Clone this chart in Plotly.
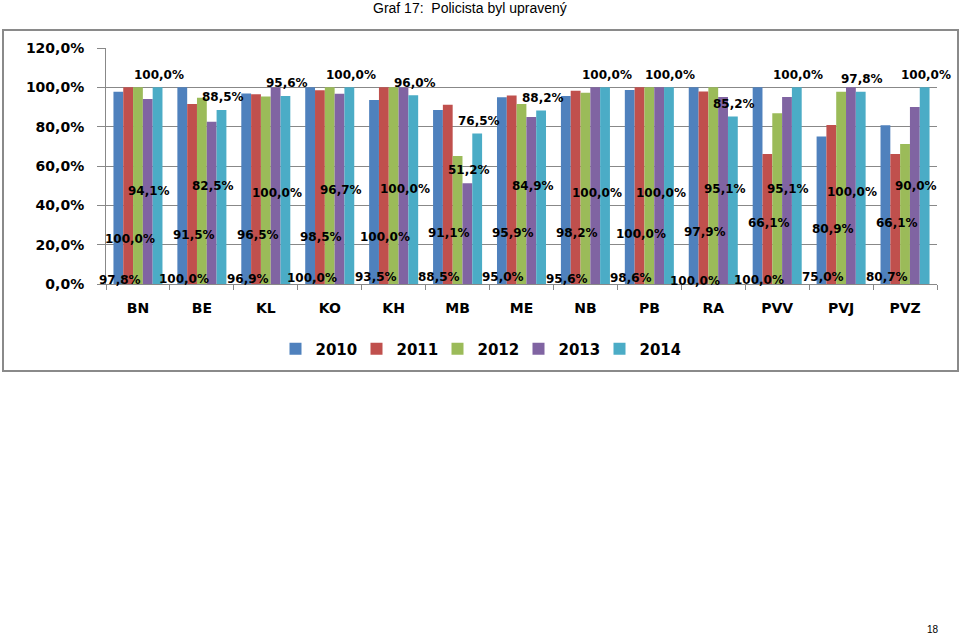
import plotly.graph_objects as go

categories = ["BN", "BE", "KL", "KO", "KH", "MB", "ME", "NB", "PB", "RA", "PVV", "PVJ", "PVZ"]
years = ["2010", "2011", "2012", "2013", "2014"]
v2010 = [97.8, 100.0, 96.9, 100.0, 93.5, 88.5, 95.0, 95.6, 98.6, 100.0, 100.0, 75.0, 80.7]
v2011 = [100.0, 91.5, 96.5, 98.5, 100.0, 91.1, 95.9, 98.2, 100.0, 97.9, 66.1, 80.9, 66.1]
v2012 = [100.0, 94.7, 95.4, 100.0, 100.0, 65.1, 91.5, 97.3, 100.0, 100.0, 86.8, 97.7, 71.2]
v2013 = [94.1, 82.5, 100.0, 96.7, 100.0, 51.2, 84.9, 100.0, 100.0, 95.1, 95.1, 100.0, 90.0]
v2014 = [100.0, 88.5, 95.6, 100.0, 96.0, 76.5, 88.2, 100.0, 100.0, 85.2, 100.0, 97.8, 100.0]
series = [v2010, v2011, v2012, v2013, v2014]
colors = ["#4F81BD", "#C0504D", "#9BBB59", "#8064A2", "#4BACC6"]

# label placement (style): vertical centre of the data-label rows, in axis units
pos2010 = [2.0, 2.5, 2.5, 3.0, 3.6, 3.6, 3.6, 2.5, 3.0, 1.5, 2.0, 3.6, 3.6]
pos2011 = [22.9, 24.9, 24.9, 23.9, 23.9, 25.9, 25.9, 25.9, 25.4, 26.4, 31.0, 28.0, 31.0]
pos2013 = [47.3, 49.8, 46.3, 47.8, 48.3, 58.0, 49.8, 46.3, 46.3, 48.3, 48.3, 46.8, 49.8]
label_gap_2014 = 6.4

FONT = "DejaVu Sans"
GRID = "#888888"

L, R, T, B = 106, 23, 48, 352
W, H = 960, 636
pw, ph = W - L - R, H - T - B
bargap = 0.233
pitch = pw / len(categories)
barw = pitch * (1 - bargap) / 5


def px2x(px):
    return (px - L) / pw


def py2y(py):
    return (H - B - py) / ph


def fmt(v):
    return f"{v:.1f}".replace(".", ",") + "%"


fig = go.Figure()
for name, vals, col in zip(years, series, colors):
    fig.add_trace(go.Bar(x=categories, y=vals, name=name, marker=dict(color=col, line=dict(width=0))))

annotations = []
label_rows = [(0, v2010, pos2010), (1, v2011, pos2011), (3, v2013, pos2013),
              (4, v2014, [v + label_gap_2014 for v in v2014])]
for idx, vals, ys in label_rows:
    for c, v, y in zip(categories, vals, ys):
        annotations.append(dict(x=c, y=y, xref="x", yref="y", text=fmt(v), showarrow=False,
                                xshift=(idx - 2) * barw + 1.5, yanchor="middle",
                                font=dict(family=FONT, size=12, color="#000000", weight="bold")))

annotations.append(dict(x=px2x(470), y=py2y(8), xref="paper", yref="paper",
                        text="Graf 17:  Policista byl upravený", showarrow=False,
                        font=dict(family="Liberation Sans", size=14, color="#000000"),
                        xanchor="center", yanchor="middle"))
annotations.append(dict(x=px2x(933), y=py2y(637), xref="paper", yref="paper", text="18",
                        showarrow=False, font=dict(family="Liberation Sans", size=10, color="#000000"),
                        xanchor="center", yanchor="bottom"))

fig.update_layout(
    width=W, height=H,
    margin=dict(l=L, r=R, t=T, b=B, pad=0, autoexpand=False),
    paper_bgcolor="white", plot_bgcolor="white",
    barmode="group", bargap=bargap, bargroupgap=0,
    showlegend=True,
    legend=dict(orientation="h", x=px2x(478), y=py2y(349), xanchor="center", yanchor="middle",
                font=dict(family=FONT, size=15, color="#000000", weight="bold"),
                itemwidth=30, traceorder="normal", entrywidth=36),
    annotations=annotations,
    shapes=[dict(type="rect", xref="paper", yref="paper",
                 x0=px2x(3), x1=px2x(958), y0=py2y(371), y1=py2y(30),
                 line=dict(color="#8a8a8a", width=2), fillcolor="rgba(0,0,0,0)", layer="below")],
)
fig.update_xaxes(type="category", range=[-0.5, len(categories) - 0.5], autorange=False,
                 showgrid=False, showline=True, linecolor=GRID, linewidth=1,
                 ticks="outside", tickson="boundaries", ticklen=5, tickcolor=GRID,
                 tickfont=dict(family=FONT, size=14, color="#000000", weight="bold"),
                 ticklabelstandoff=11, automargin=False)
fig.update_yaxes(range=[0, 120], autorange=False, tickvals=[0, 20, 40, 60, 80, 100, 120],
                 ticktext=[fmt(v) for v in [0, 20, 40, 60, 80, 100, 120]],
                 showgrid=True, gridcolor=GRID, gridwidth=1, showline=True, linecolor=GRID,
                 ticks="outside", ticklen=8, tickcolor=GRID, zeroline=False,
                 tickfont=dict(family=FONT, size=14, color="#000000", weight="bold"),
                 ticklabelstandoff=10, automargin=False)

fig.write_html("out.html", config={"displayModeBar": False},
               post_script="document.body.style.margin='0';document.body.style.overflow='hidden';")
